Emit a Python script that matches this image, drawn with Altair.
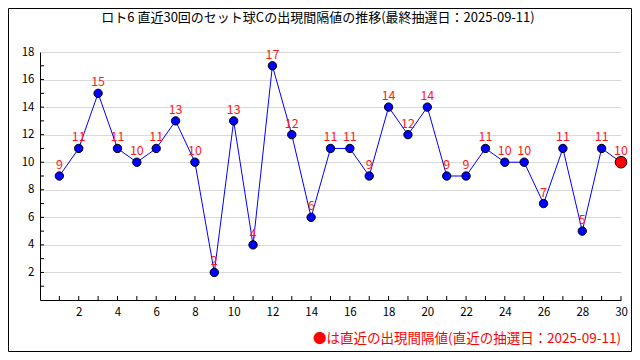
import altair as alt
import pandas as pd

draws = list(range(1, 31))
intervals = [9, 11, 15, 11, 10, 11, 13, 10, 2, 13, 4, 17, 12, 6, 11, 11, 9, 14, 12, 14,
             9, 9, 11, 10, 10, 7, 11, 5, 11, 10]
title_text = "ロト6 直近30回のセット球Cの出現間隔値の推移(最終抽選日：2025-09-11)"
note_text = "●は直近の出現間隔値(直近の抽選日：2025-09-11)"
x_tick_values = list(range(1, 31))
y_minor_values = list(range(1, 18))
y_label_values = list(range(2, 19, 2))
x_label_values = list(range(2, 31, 2))

FONT = "Noto Sans CJK JP"
W, H = 581, 248

df = pd.DataFrame({"draw": draws, "interval": intervals})
df["last"] = df["draw"] == draws[-1]
xt = pd.DataFrame({"draw": x_tick_values})
yt = pd.DataFrame({"interval": y_minor_values})

xscale = alt.Scale(domain=[0, 30], nice=False, zero=False)
yscale = alt.Scale(domain=[0, 18], nice=False)

X_AXIS = alt.Axis(values=x_label_values, grid=False, tickSize=0, labelPadding=6,
                  domainColor="black", labelColor="black", labelFont=FONT,
                  labelFontSize=11.5, labelFlush=False, labelOverlap=False)
Y_AXIS = alt.Axis(values=y_label_values, grid=True, gridColor="#d9d9d9", tickSize=0,
                  labelPadding=6, domainColor="black", labelColor="black",
                  labelFont=FONT, labelFontSize=11.5, labelOverlap=False, labelFlush=False)


def X():
    return alt.X("draw:Q", scale=xscale, title=None, axis=X_AXIS)


def Y():
    return alt.Y("interval:Q", scale=yscale, title=None, axis=Y_AXIS)


base = alt.Chart(df)

xticks = alt.Chart(xt).mark_rule(color="black").encode(
    x=X(), y=alt.value(H), y2=alt.value(H - 4))
yticks = alt.Chart(yt).mark_rule(color="black").encode(
    y=Y(), x=alt.value(0), x2=alt.value(4))

line = base.mark_line(color="#0000ff", strokeWidth=1).encode(x=X(), y=Y())

pts = base.mark_point(filled=True, stroke="black", strokeWidth=1, opacity=1).encode(
    x=X(), y=Y(),
    fill=alt.condition("datum.last", alt.value("#ff0000"), alt.value("#0000ff")),
    size=alt.condition("datum.last", alt.value(135), alt.value(70)),
    shape=alt.value("circle"))

labels = base.mark_text(color="#ff1a1a", fontSize=12.5, font=FONT, dy=-11).encode(
    x=X(), y=Y(), text="interval:Q")

title = alt.Chart(pd.DataFrame({"t": [title_text]})).mark_text(
    font=FONT, fontSize=13, color="black", align="center", baseline="middle").encode(
    x=alt.value(278), y=alt.value(-34), text="t:N")

note = alt.Chart(pd.DataFrame({"t": [note_text]})).mark_text(
    font=FONT, fontSize=13.5, color="#ff0000", align="right", baseline="middle").encode(
    x=alt.value(581), y=alt.value(287), text="t:N")

border = alt.Chart(pd.DataFrame({"a": [0]})).mark_rect(
    fillOpacity=0, stroke="black", strokeWidth=1).encode(
    x=alt.value(-31.5), x2=alt.value(591.5), y=alt.value(-43.5), y2=alt.value(299.5))

chart = alt.layer(line, xticks, yticks, pts, labels, title, note, border).properties(
    width=W, height=H,
    autosize=alt.AutoSizeParams(type="none"),
    padding={"left": 32, "top": 44, "right": 11, "bottom": 52},
    background="white",
).configure_view(stroke=None)

chart.save("out.html", embed_options={"renderer": "svg", "actions": False})
